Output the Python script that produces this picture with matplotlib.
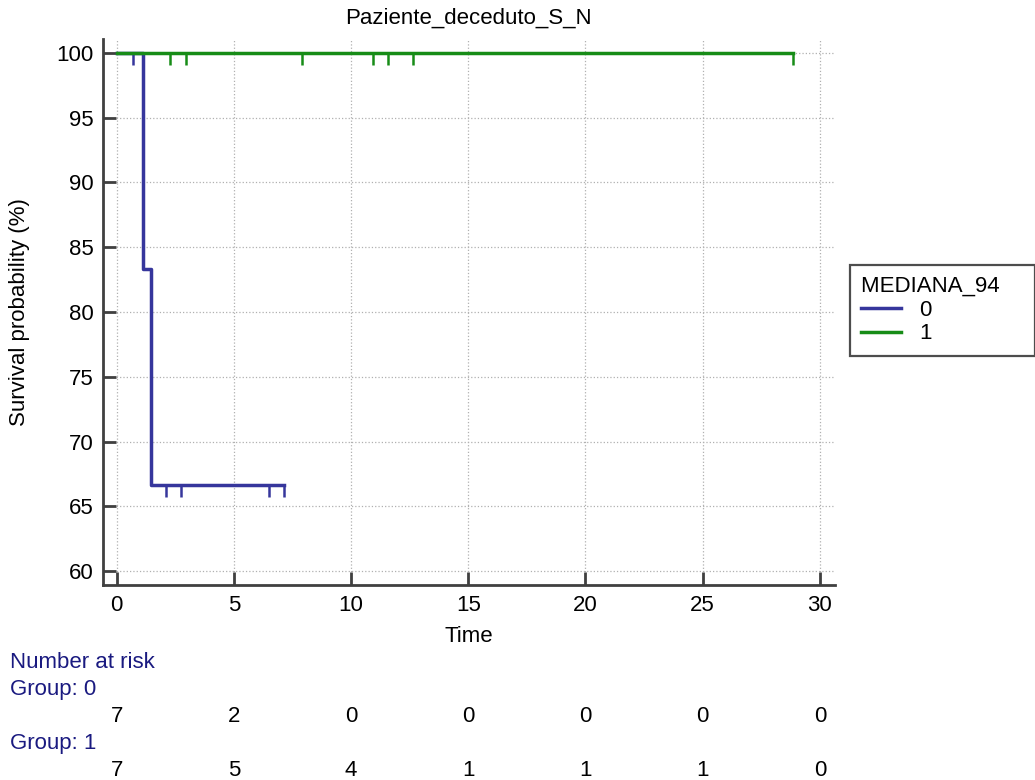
import numpy as np
import matplotlib
matplotlib.use("Agg")
import matplotlib.pyplot as plt
from matplotlib.transforms import blended_transform_factory

plt.rcParams["font.family"] = ["Liberation Sans", "DejaVu Sans"]

# follow-up times and event flags (1 = death, 0 = censored)
group0_time = [0.70, 1.13, 1.47, 2.11, 2.75, 6.50, 7.12]
group0_event = [0, 1, 1, 0, 0, 0, 0]
group1_time = [2.29, 2.98, 7.91, 10.93, 11.58, 12.64, 28.87]
group1_event = [0, 0, 0, 0, 0, 0, 0]

risk_times = [0, 5, 10, 15, 20, 25, 30]
risk_group0 = [7, 2, 0, 0, 0, 0, 0]
risk_group1 = [7, 5, 4, 1, 1, 1, 0]

groups = ["0", "1"]
colors = ["#36369c", "#178c17"]
fs = 16


def kaplan_meier(times, events):
    order = np.argsort(times)
    t = np.asarray(times)[order]
    e = np.asarray(events)[order]
    n = len(t)
    surv = 100.0
    xs, ys = [0.0], [100.0]
    cens_x, cens_y = [], []
    for i, (ti, ei) in enumerate(zip(t, e)):
        at_risk = n - i
        if ei:
            surv *= (at_risk - 1) / at_risk
            xs.append(ti)
            ys.append(surv)
        else:
            cens_x.append(ti)
            cens_y.append(surv)
    xs.append(t[-1])
    ys.append(surv)
    return xs, ys, cens_x, cens_y


fig = plt.figure(figsize=(10.35, 7.8), dpi=100)
ax = fig.add_axes([0.0995, 0.25, 0.7072, 0.70])

for name, times, events, col in zip(groups, [group0_time, group1_time],
                                    [group0_event, group1_event], colors):
    xs, ys, cx, cy = kaplan_meier(times, events)
    ax.step(xs, ys, where="post", color=col, lw=2.5, label=name)
    ax.plot(cx, cy, ls="none", marker=3, ms=8.5, mew=1.8, color=col)

ax.set_xlim(-0.58, 30.64)
ax.set_ylim(58.92, 101.08)
ax.set_xticks(range(0, 31, 5))
ax.set_yticks(range(60, 101, 5))
ax.grid(True, color="#b0b0b0", ls=":", lw=0.9)
ax.set_axisbelow(True)

for side in ["top", "right"]:
    ax.spines[side].set_visible(False)
for side in ["left", "bottom"]:
    ax.spines[side].set_color("#404040")
    ax.spines[side].set_linewidth(2.0)
ax.tick_params(direction="in", length=9.5, width=2.0, color="#404040",
               labelsize=fs, pad=7)

fig.text(0.453, 0.977, "Paziente_deceduto_S_N", ha="center", va="center", fontsize=fs)
fig.text(0.453, 1 - 637 / 780, "Time", ha="center", va="center", fontsize=fs)
fig.text(20 / 1035, 1 - 312 / 780, "Survival probability (%)", rotation=90,
         ha="center", va="center", fontsize=fs)

leg = fig.legend(loc="upper left", bbox_to_anchor=(850 / 1035, 1 - 265 / 780),
                 title="MEDIANA_94    ", fontsize=fs, title_fontsize=fs,
                 frameon=True, fancybox=False, handlelength=1.8,
                 borderpad=0.5, labelspacing=0.12, handletextpad=0.8,
                 borderaxespad=0)
leg._legend_box.align = "left"
leg.get_frame().set_edgecolor("#202020")
leg.get_frame().set_linewidth(1.6)

# number at risk table
navy = "#1a1a80"
tr = blended_transform_factory(ax.transData, fig.transFigure)
fig.text(10 / 1035, 1 - 663 / 780, "Number at risk", color=navy, fontsize=fs, va="center")
fig.text(10 / 1035, 1 - 690 / 780, "Group: 0", color=navy, fontsize=fs, va="center")
fig.text(10 / 1035, 1 - 744 / 780, "Group: 1", color=navy, fontsize=fs, va="center")
for t, r0, r1 in zip(risk_times, risk_group0, risk_group1):
    ax.text(t, 1 - 717 / 780, str(r0), transform=tr, ha="center", va="center",
            fontsize=fs, clip_on=False)
    ax.text(t, 1 - 770 / 780, str(r1), transform=tr, ha="center", va="center",
            fontsize=fs, clip_on=False)

fig.savefig("out.png", dpi=100)
